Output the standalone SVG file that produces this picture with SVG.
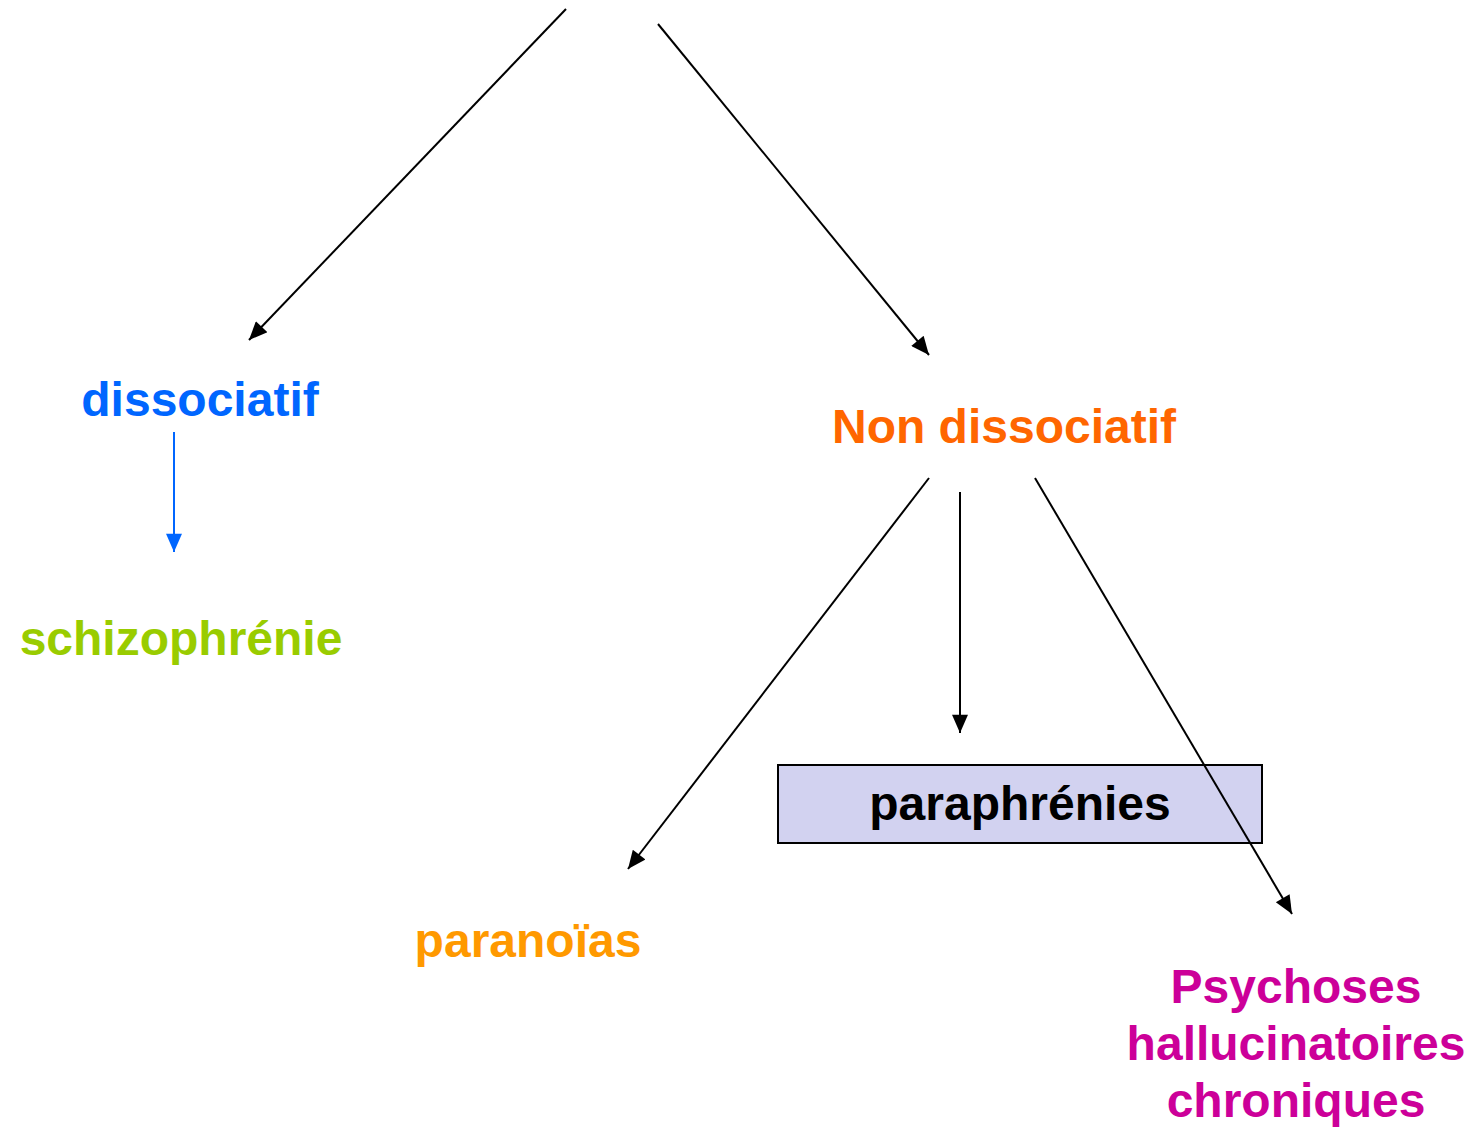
<svg xmlns="http://www.w3.org/2000/svg" width="1481" height="1127" viewBox="0 0 1481 1127">
<defs>
<style>
text{font-family:"Liberation Sans",Arial,sans-serif;font-weight:bold;font-size:48px;text-anchor:middle}
.c{stroke:#000;stroke-width:2;fill:none;marker-end:url(#ah)}
.cb{stroke:#0066ff;stroke-width:2;fill:none;marker-end:url(#ahb)}
</style>
<marker id="ah" markerUnits="userSpaceOnUse" markerWidth="20" markerHeight="16" refX="16" refY="7" orient="auto" viewBox="0 0 16 14">
<path d="M0,0 L16,7 L0,14 z" fill="#000"/>
</marker>
<marker id="ahb" markerUnits="userSpaceOnUse" markerWidth="20" markerHeight="16" refX="16" refY="7" orient="auto" viewBox="0 0 16 14">
<path d="M0,0 L16,7 L0,14 z" fill="#0066ff"/>
</marker>
</defs>
<g id="n-dissociatif"><text x="200" y="416" fill="#0066ff">dissociatif</text></g>
<g id="n-non-dissociatif"><text x="1004" y="443" fill="#ff6600">Non dissociatif</text></g>
<g id="n-schizophrenie"><text x="181" y="655" fill="#99cc00">schizophrénie</text></g>
<g id="n-paraphrenies"><rect x="778" y="765" width="484" height="78" fill="#d2d2f0" stroke="#000" stroke-width="2"/><text x="1020" y="820" fill="#000">paraphrénies</text></g>
<g id="n-paranoias"><text x="528" y="957" fill="#ff9900">paranoïas</text></g>
<g id="n-psychoses"><text x="1296" y="1003" fill="#cc0099">Psychoses</text><text x="1296" y="1060" fill="#cc0099">hallucinatoires</text><text x="1296" y="1117" fill="#cc0099">chroniques</text></g>
<g id="connectors">
<line class="c" x1="566" y1="9" x2="249" y2="340"/>
<line class="c" x1="658" y1="24" x2="929" y2="355"/>
<line class="cb" x1="174" y1="432" x2="174" y2="552"/>
<line class="c" x1="929" y1="478" x2="628" y2="869"/>
<line class="c" x1="960" y1="492" x2="960" y2="733"/>
<line class="c" x1="1035" y1="478" x2="1292" y2="914"/>
</g>
</svg>
